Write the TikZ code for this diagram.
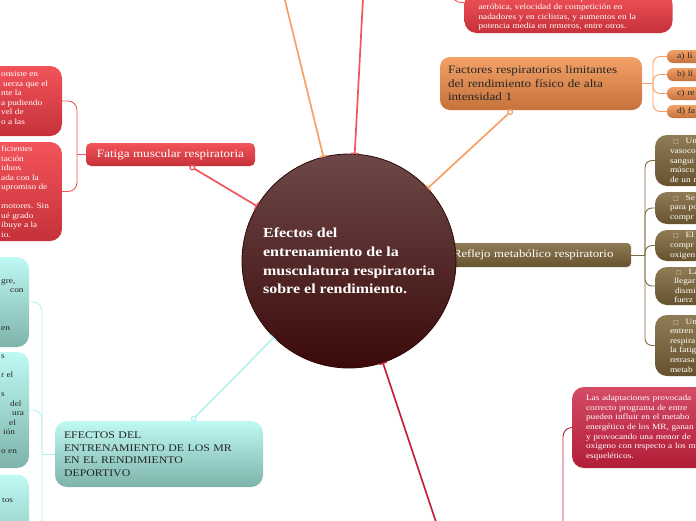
\documentclass[tikz,border=0pt]{standalone}
\usepackage{fontspec}
\setmainfont[FakeStretch=1.16]{Liberation Serif}
\newfontfamily\symf{DejaVu Sans}
\usetikzlibrary{arrows.meta}
\definecolor{redA}{HTML}{F25459}
\definecolor{redB}{HTML}{C6313A}
\definecolor{redL}{HTML}{F0555A}
\definecolor{orA}{HTML}{F3A167}
\definecolor{orB}{HTML}{C5723B}
\definecolor{orL}{HTML}{F7A066}
\definecolor{tlA}{HTML}{BFF9F3}
\definecolor{tlB}{HTML}{7DB3AB}
\definecolor{tlL}{HTML}{B5F2EE}
\definecolor{brA}{HTML}{8F7B55}
\definecolor{brB}{HTML}{67522F}
\definecolor{brL}{HTML}{7F6A45}
\definecolor{crA}{HTML}{D44B66}
\definecolor{crB}{HTML}{B21D37}
\definecolor{crL}{HTML}{C21E3C}
\definecolor{ciA}{HTML}{6E4848}
\definecolor{ciB}{HTML}{3B0A0A}
\newcommand{\sqb}{{\symf\fontsize{6}{6}\selectfont\color{white!75!brA}□}}
\begin{document}
\begin{tikzpicture}[x=1pt,y=-1pt,
  conn/.style={line width=1.7pt},
  brk/.style={line width=0.9pt, rounded corners=9pt},
  ends/.style={{Circle[open,length=6pt,width=6pt,line width=1.3pt]}-{Bar[width=8pt,line width=1.4pt]}},
  tbar/.style={-{Bar[width=8pt,line width=1.4pt]}},
  shp/.style={inner sep=0pt, outer sep=0pt},
  frag/.style={font=\fontsize{8}{9.5}\selectfont, align=left, inner sep=0pt, anchor=north west},
  txt/.style={font=\fontsize{8}{9.6}\selectfont, align=left, inner ysep=0pt, outer sep=0pt},
  redbox/.style={shp, top color=redA, bottom color=redB},
  orbox/.style={shp, top color=orA, bottom color=orB},
  tlbox/.style={shp, top color=tlA, bottom color=tlB},
  brbox/.style={shp, top color=brA, bottom color=brB},
  crbox/.style={shp, top color=crA, bottom color=crB},
]
\useasboundingbox (0,0) rectangle (696,520);
\clip (0,0) rectangle (696,520);

% ---------- red (top) text box ----------
\node[redbox, rounded corners=12pt, minimum width=207pt, minimum height=41pt,
      txt, text=white, text width=180pt, inner xsep=14pt, anchor=center] (redtop) at (568.5,12.5)
  {destacan aumentos en la capacidad\\aeróbica, velocidad de competición en\\nadadores y en ciclistas, y aumentos en la\\potencia media en remeros, entre otros.};
\coordinate (redtopP) at (452,-40);
\draw[brk, redL] (redtopP) |- ([yshift=10pt]redtop.west);

% ---------- Fatiga muscular respiratoria ----------
\node[redbox, rounded corners=5pt, minimum width=169pt, minimum height=23pt,
      text=white, font=\fontsize{11.3}{13}\selectfont] (fatiga) at (170.5,154.5) {Fatiga muscular respiratoria};
\node[redbox, rounded corners=12pt, minimum width=122pt, minimum height=70pt] (fr1) at (1,101) {};
\node[redbox, rounded corners=12pt, minimum width=122pt, minimum height=99pt] (fr2) at (1,191.5) {};
\node[frag, text=white] (fr1t) at (1,71) {onsiste en\\\hspace*{2pt}uerza que el\\nte la\\a pudiendo\\vel de\\o a las};
\node[frag, text=white] (fr2t) at (1,146) {ficientes\\tación\\iduos\\ada con la\\upromiso de\\\mbox{}\\motores. Sin\\ué grado\\ibuye a la\\io.};
\draw[line width=0.9pt, redL] (fatiga.west) -- ++(-9,0) coordinate (fj);
\draw[brk, redL] (fj) |- (fr1.east);
\draw[brk, redL] (fj) |- (fr2.east);

% ---------- teal ----------
\node[tlbox, rounded corners=12pt, minimum width=208pt, minimum height=66pt,
      text width=190pt, align=left, font=\fontsize{10.2}{12.6}\selectfont, text=black!85] (efectos) at (159,454)
  {EFECTOS DEL\\ENTRENAMIENTO DE LOS MR\\EN EL RENDIMIENTO\\DEPORTIVO};
\node[tlbox, rounded corners=12pt, minimum width=89pt, minimum height=90pt] (tA) at (-15.5,302) {};
\node[tlbox, rounded corners=12pt, minimum width=89pt, minimum height=116pt] (tB) at (-15.5,410) {};
\node[tlbox, rounded corners=12pt, minimum width=89pt, minimum height=105pt] (tC) at (-15.5,527) {};
\node[frag, text=black!85] (tAt) at (1,279) {gre,\\\hspace*{9pt}con\\\mbox{}\\\mbox{}\\\mbox{}\\en};
\node[frag, text=black!85] (tBt) at (1,355) {s\\\mbox{}\\r el\\\mbox{}\\s\\\hspace*{9pt}del\\\hspace*{11pt}ura\\\hspace*{8pt}el\\\hspace*{2pt}ión\\\mbox{}\\o en};
\node[frag, text=black!85] (tCt) at (2,498) {tos};
\draw[line width=0.9pt, tlL] (efectos.west) -- ++(-13,0) coordinate (tj);
\draw[brk, tlL] (tj) |- (tA.east);
\draw[brk, tlL] (tj) |- (tB.east);
\draw[brk, tlL] (tj) |- (tC.east);

% ---------- orange ----------
\node[orbox, rounded corners=10pt, minimum width=202pt, minimum height=53pt,
      text width=186pt, align=left, font=\fontsize{11.3}{13.5}\selectfont, text=black!85] (factores) at (541,83.5)
  {Factores respiratorios limitantes\\del rendimiento físico de alta\\intensidad 1};
\foreach \n/\yy/\tt in {oa/56.5/a) lí, ob/74.5/b) lí, oc/93.5/c) re, od/111.5/d) fa}{
  \node[orbox, rounded corners=6pt, minimum width=73pt, minimum height=13pt,
        txt, text width=61pt, inner xsep=6pt, font=\fontsize{8.3}{9}\selectfont, text=black!85] (\n) at (703.5,\yy) {\hspace*{4pt}\tt};
}
\draw[line width=0.9pt, orL] (factores.east) -- ++(11,0) coordinate (oj);
\foreach \n in {oa,ob,oc,od}{ \draw[brk, rounded corners=7pt, orL] (oj) |- (\n.west); }

% ---------- brown ----------
\node[brbox, rounded corners=4pt, minimum width=191pt, minimum height=24pt,
      text width=181pt, align=left, font=\fontsize{11}{13}\selectfont, text=white] (reflejo) at (535.5,255)
  {\hspace*{8pt}Reflejo metabólico respiratorio};
\node[brbox, rounded corners=12pt, minimum width=105pt, minimum height=51pt, txt, text=white, text width=75pt, inner xsep=15pt] (b1) at (707.5,160.5)
  {\hspace*{3pt}\sqb\hspace*{7pt}Un\\vasoco\\sangui\\múscu\\de un r};
\node[brbox, rounded corners=12pt, minimum width=105pt, minimum height=32pt, txt, text=white, text width=75pt, inner xsep=15pt] (b2) at (707.5,208)
  {\hspace*{3pt}\sqb\hspace*{7pt}Se\\para po\\compr};
\node[brbox, rounded corners=12pt, minimum width=105pt, minimum height=31pt, txt, text=white, text width=75pt, inner xsep=15pt] (b3) at (707.5,245.5)
  {\hspace*{3pt}\sqb\hspace*{7pt}El\\compr\\oxigen};
\node[brbox, rounded corners=12pt, minimum width=105pt, minimum height=38pt, txt, text=white, text width=75pt, inner xsep=15pt] (b4) at (707.5,286)
  {\hspace*{6pt}\sqb\hspace*{7pt}La\\\hspace*{4pt}llegar\\\hspace*{5pt}dismi\\\hspace*{4pt}fuerz};
\node[brbox, rounded corners=12pt, minimum width=105pt, minimum height=61pt, txt, text=white, text width=75pt, inner xsep=15pt] (b5) at (707.5,345.5)
  {\hspace*{3pt}\sqb\hspace*{7pt}Un\\entren\\respira\\la fatig\\retrasa\\metab};
\draw[line width=0.9pt, brL] (reflejo.east) -- ++(14,0) coordinate (bj);
\foreach \n in {b1,b2,b3,b4,b5}{ \draw[brk, rounded corners=7pt, brL] (bj) |- (\n.west); }

% ---------- crimson ----------
\node[crbox, rounded corners=12pt, minimum width=168pt, minimum height=81pt,
      txt, text=white, text width=140pt, inner xsep=14pt, font=\fontsize{8}{9.7}\selectfont] (crim) at (656,427.5)
  {Las adaptaciones provocada\\correcto programa de entre\\pueden influir en el metabo\\energético de los MR, ganan\\y provocando una menor de\\oxígeno con respecto a los m\\esqueléticos.};
\coordinate (crimP) at (563,560);
\draw[brk, crL] (crimP) |- (crim.west);

% ---------- central circle ----------
\node[circle, shp, minimum size=214pt, top color=ciA, bottom color=ciB, draw=ciB!80!black, line width=0.8pt,
      align=left, text=white, font=\fontsize{13.8}{18.7}\selectfont\bfseries] (ctr) at (349,261)
  {Efectos del\\entrenamiento de la\\musculatura respiratoria\\sobre el rendimiento.};

% ---------- connectors to the centre ----------
\coordinate (topO) at (280,-20);
\coordinate (topR) at (364,-20);
\coordinate (botC) at (442,540);
\draw[conn, orL, tbar] (topO) -- (ctr);
\draw[conn, redL, tbar] (topR) -- (ctr);
\draw[conn, crL, tbar] (botC) -- (ctr);
\draw[conn, redL, ends] (fatiga) -- (ctr);
\draw[conn, orL, ends] (factores) -- (ctr);
\draw[conn, tlL, ends] (efectos) -- (ctr);
\end{tikzpicture}
\end{document}
